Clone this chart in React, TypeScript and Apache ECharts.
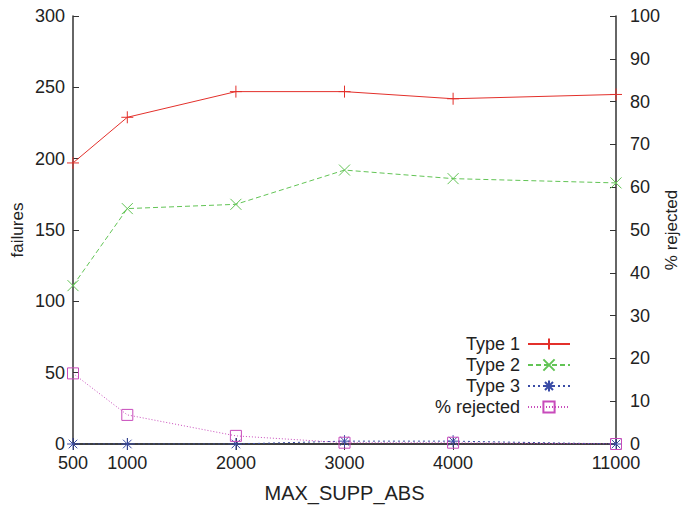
import React, { useEffect, useRef } from "react";
import * as echarts from "echarts";

// MAX_SUPP_ABS settings and their positions on the (broken) x scale
const xLabels = ["500", "1000", "2000", "3000", "4000", "11000"];
const xPositions = [500, 1000, 2000, 3000, 4000, 5500];

// failures per type (left axis)
const type1 = [197, 229, 247, 247, 242, 245];
const type2 = [111, 165, 168, 192, 186, 183];
const type3 = [0, 0, 0, 2, 2, 0];
// share of rejected items (right axis)
const rejected = [16.5, 6.8, 1.9, 0.3, 0.3, 0];

const leftTicks = [0, 50, 100, 150, 200, 250, 300];

const FONT = "'Liberation Sans', Arial, Helvetica, sans-serif";
const AXIS = "#333333";
const TEXT = "#222222";

const RED = "#e3302b";
const GREEN = "#62c455";
const BLUE = "#3a4ca6";
const MAGENTA = "#c84bbb";

const plusSym = "path://M0,-6L0,6M-6,0L6,0";
const crossSym = "path://M-5,-5L5,5M-5,5L5,-5";
const starSym = "path://M0,-6L0,6M-6,0L6,0M-4.3,-4.3L4.3,4.3M-4.3,4.3L4.3,-4.3";
const squareSym = "path://M-5,-5L5,-5L5,5L-5,5Z";

const pairs = (ys: number[]) => xPositions.map((x, i) => [x, ys[i]]);

export default function App() {
  const ref = useRef<HTMLDivElement>(null);

  useEffect(() => {
    if (!ref.current) return;
    document.body.style.margin = "0";
    const chart = echarts.init(ref.current, undefined, { renderer: "svg" });

    const labelFor = (v: number) => {
      const i = xPositions.indexOf(v);
      return i >= 0 ? xLabels[i] : "";
    };

    const makeSeries = (
      name: string,
      ys: number[],
      color: string,
      symbol: string,
      size: number,
      type: any,
      yAxisIndex: number
    ) => ({
      name,
      type: "line",
      data: pairs(ys),
      yAxisIndex,
      symbol,
      symbolSize: size,
      showAllSymbol: true,
      lineStyle: { color, width: 1, type },
      itemStyle: { color: "transparent", borderColor: color, borderWidth: 1 },
      emphasis: { disabled: true },
    });

    chart.setOption({
      animation: false,
      backgroundColor: "#ffffff",
      textStyle: { fontFamily: FONT, color: TEXT },
      grid: {
        left: 73,
        right: 66,
        top: 16,
        bottom: 62,
        containLabel: false,
        outerBoundsMode: "none",
      },
      legend: {
        orient: "vertical",
        align: "right",
        right: 111,
        top: 335,
        padding: 0,
        itemGap: 3,
        itemWidth: 42,
        itemHeight: 14,
        textStyle: {
          fontFamily: FONT,
          fontSize: 18,
          lineHeight: 18,
          color: TEXT,
          padding: [0, 3, 0, 0],
        },
        data: ["Type 1", "Type 2", "Type 3", "% rejected"],
      },
      xAxis: [
        {
          type: "value",
          min: 500,
          max: 5500,
          name: "MAX_SUPP_ABS",
          nameLocation: "middle",
          nameGap: 39,
          nameMoveOverlap: false,
          nameTextStyle: { fontFamily: FONT, fontSize: 20, color: TEXT },
          axisLine: { show: true, lineStyle: { color: AXIS, width: 1.5 } },
          axisTick: { show: true, inside: true, length: 6, customValues: xPositions, lineStyle: { color: AXIS } },
          axisLabel: {
            customValues: xPositions,
            formatter: (v: number) => labelFor(v),
            fontFamily: FONT,
            fontSize: 18,
            color: TEXT,
            margin: 10,
          },
          splitLine: { show: false },
        },
        {
          type: "value",
          position: "top",
          min: 500,
          max: 5500,
          axisLine: { show: true, lineStyle: { color: AXIS, width: 1.5 } },
          axisTick: { show: true, inside: true, length: 6, customValues: xPositions, lineStyle: { color: AXIS } },
          axisLabel: { show: false },
          splitLine: { show: false },
        },
      ],
      yAxis: [
        {
          type: "value",
          min: 0,
          max: 300,
          interval: 50,
          name: "failures",
          nameLocation: "middle",
          nameGap: 47,
          nameMoveOverlap: false,
          nameTextStyle: { fontFamily: FONT, fontSize: 17, color: TEXT },
          axisLine: { show: true, lineStyle: { color: AXIS, width: 1.5 } },
          axisTick: { show: true, inside: true, length: 6, lineStyle: { color: AXIS } },
          axisLabel: {
            fontFamily: FONT,
            fontSize: 18,
            color: TEXT,
            margin: 8,
            formatter: (v: number) => (leftTicks.includes(v) ? String(v) : ""),
          },
          splitLine: { show: false },
        },
        {
          type: "value",
          min: 0,
          max: 100,
          interval: 10,
          name: "% rejected",
          nameLocation: "middle",
          nameGap: 47,
          nameMoveOverlap: false,
          nameTextStyle: { fontFamily: FONT, fontSize: 17, color: TEXT },
          axisLine: { show: true, lineStyle: { color: AXIS, width: 1.5 } },
          axisTick: { show: true, inside: true, length: 6, lineStyle: { color: AXIS } },
          axisLabel: { fontFamily: FONT, fontSize: 18, color: TEXT, margin: 14 },
          splitLine: { show: false },
        },
      ],
      series: [
        makeSeries("Type 1", type1, RED, plusSym, 12, "solid", 0),
        makeSeries("Type 2", type2, GREEN, crossSym, 11, [5, 3], 0),
        makeSeries("Type 3", type3, BLUE, starSym, 12, [2, 3], 0),
        makeSeries("% rejected", rejected, MAGENTA, squareSym, 11, [1, 2], 1),
      ],
    });

    return () => chart.dispose();
  }, []);

  return (
    <div
      ref={ref}
      style={{ position: "fixed", left: 0, top: 0, width: 682, height: 506 }}
    />
  );
}
